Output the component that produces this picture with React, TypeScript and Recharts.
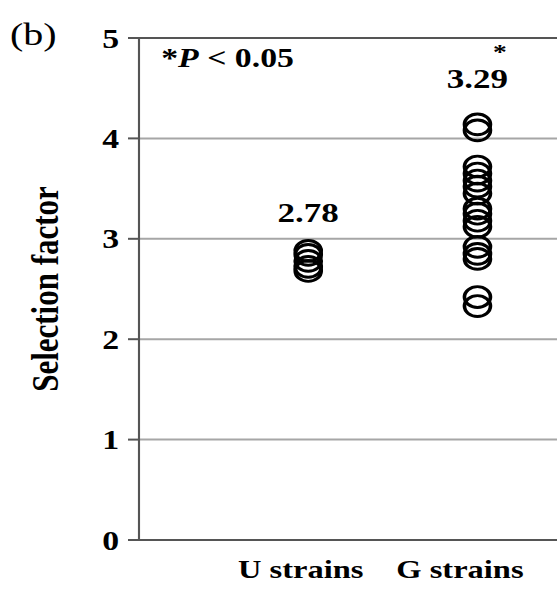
import React from 'react';
import { ScatterChart, Scatter, XAxis, YAxis, CartesianGrid, ReferenceLine, ReferenceDot, Customized } from 'recharts';

// the source figure is stretched sideways, so draw narrow and scale in x
const SX = 1.25;
const W = 557 / SX;
const H = 594;
const FONT = '"Liberation Serif", "Times New Roman", serif';

const categories = ['U strains', 'G strains'];
const uStrains = [2.88, 2.84, 2.78, 2.72, 2.68];
const gStrains = [4.14, 4.08, 3.72, 3.65, 3.58, 3.52, 3.45, 3.3, 3.25, 3.18, 3.12, 2.92, 2.85, 2.8, 2.42, 2.33];
const meanLabels = ['2.78', '3.29'];
const yTicks = [0, 1, 2, 3, 4, 5];

const uData = uStrains.map((v) => ({ x: 1, y: v }));
const gData = gStrains.map((v) => ({ x: 2, y: v }));

const Ring = (props: any) => (
  <circle cx={props.cx} cy={props.cy} r={10.4} fill="none" stroke="#000" strokeWidth={2.9} />
);

const labelShift = [-6, -14];
const CatTick = (props: any) => {
  const { x, y, payload, index } = props;
  return (
    <text x={x + (labelShift[index] || 0)} y={y + 30} textAnchor="middle" fontFamily={FONT} fontWeight="bold" fontSize={26} fill="#000">
      {categories[payload.value - 1]}
    </text>
  );
};

const Annotations = () => (
  <g fontFamily={FONT} fill="#000">
    <text x={8} y={45} fontSize={32}>(b)</text>
    <text x={129} y={67} fontSize={27} fontWeight="bold">
      *<tspan fontStyle="italic">P</tspan> &lt; 0.05
    </text>
  </g>
);

const meanLabel = (text: string, lift: number, star: boolean) => (p: any) => {
  const cx = p.viewBox.x + p.viewBox.width / 2;
  const cy = p.viewBox.y + p.viewBox.height / 2;
  return (
    <g fontFamily={FONT} fontWeight="bold" fill="#000">
      <text x={cx} y={cy - lift} textAnchor="middle" fontSize={28}>{text}</text>
      {star && <text x={cx + 18} y={59} textAnchor="middle" fontSize={22}>*</text>}
    </g>
  );
};

export default function App() {
  return (
    <div style={{ position: 'absolute', left: 0, top: 0, width: 557, height: H, overflow: 'hidden', background: '#fff' }}>
      <div style={{ width: W, height: H, transform: `scaleX(${SX})`, transformOrigin: '0 0' }}>
        <ScatterChart width={W} height={H} margin={{ top: 38, right: 0, bottom: 0, left: 0 }}>
          <CartesianGrid horizontal vertical={false} stroke="#a6a6a6" strokeWidth={2} />
          <XAxis type="number" dataKey="x" domain={[0, 2.47]} ticks={[1, 2]} tick={<CatTick />} tickLine={false}
            axisLine={{ stroke: '#555', strokeWidth: 2 }} height={54} />
          <YAxis type="number" dataKey="y" domain={[0, 5]} ticks={yTicks} width={111.2} tickSize={8.8} tickMargin={7}
            axisLine={{ stroke: '#555', strokeWidth: 1.7 }} tickLine={{ stroke: '#555', strokeWidth: 2 }}
            tick={{ fontFamily: FONT, fontWeight: 'bold', fontSize: 27, fill: '#000' }}
            label={{
              content: () => (
                <text x={36} y={289} transform="rotate(-90 36 289)" textAnchor="middle" dominantBaseline="central"
                  fontFamily={FONT} fontWeight="bold" fontSize={31} fill="#000">Selection factor</text>
              ),
            }} />
          <ReferenceLine y={5} stroke="#555" strokeWidth={2} />
          <Scatter data={uData} shape={<Ring />} isAnimationActive={false} />
          <Scatter data={gData} shape={<Ring />} isAnimationActive={false} />
          <ReferenceDot x={1} y={Math.max(...uStrains)} r={0} stroke="none" label={{ content: meanLabel(meanLabels[0], 29, false) }} />
          <ReferenceDot x={2} y={Math.max(...gStrains)} r={0} stroke="none" label={{ content: meanLabel(meanLabels[1], 36, true) }} />
          <Customized component={<Annotations />} />
        </ScatterChart>
      </div>
    </div>
  );
}
